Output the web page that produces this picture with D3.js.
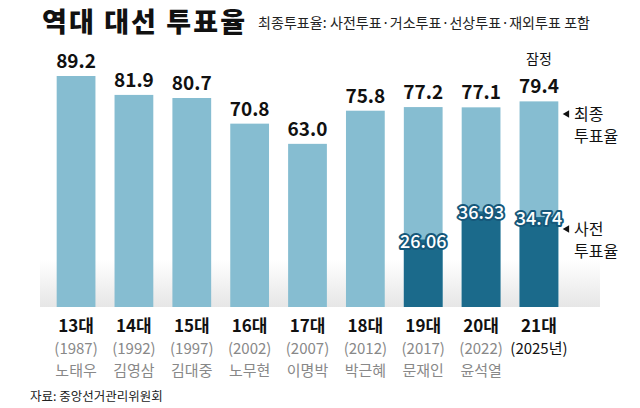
<!DOCTYPE html>
<html><head><meta charset="utf-8">
<script src="https://cdn.jsdelivr.net/npm/d3@7"></script>
<style>body{margin:0;background:#fff}svg{font-family:"Noto Sans CJK KR","Noto Sans",sans-serif}</style>
</head><body>
<script>
const terms = ["13대","14대","15대","16대","17대","18대","19대","20대","21대"];
const years = ["(1987)","(1992)","(1997)","(2002)","(2007)","(2012)","(2017)","(2022)","(2025년)"];
const names = ["노태우","김영삼","김대중","노무현","이명박","박근혜","문재인","윤석열",""];
const finalRate = [89.2,81.9,80.7,70.8,63.0,75.8,77.2,77.1,79.4];
const earlyRate = [null,null,null,null,null,null,26.06,36.93,34.74];

const W = 640, H = 408;
const svg = d3.select("body").append("svg").attr("width", W).attr("height", H);

const x = d3.scaleBand().domain(terms).range([48, 567]).paddingInner(0.33).paddingOuter(0.15);
const y = d3.scaleLinear().domain([0, 89.2]).range([307, 76]);

const defs = svg.append("defs");
const gr = defs.append("linearGradient").attr("id","shade").attr("x1",0).attr("y1",0).attr("x2",0).attr("y2",1);
gr.append("stop").attr("offset","0%").attr("stop-color","#fff");
gr.append("stop").attr("offset","100%").attr("stop-color","#e6e6e6");
svg.append("rect").attr("x",40).attr("y",260).attr("width",560).attr("height",47).attr("fill","url(#shade)");

svg.append("text").attr("x",42).attr("y",32).attr("font-size",27).attr("font-weight",900).attr("fill","#111")
  .attr("textLength",203).text("역대 대선 투표율");
svg.append("text").attr("x",258).attr("y",28).attr("font-size",14).attr("fill","#222")
  .attr("textLength",332).text("최종투표율: 사전투표·거소투표·선상투표·재외투표 포함");

const g = svg.append("g");
g.selectAll(".fin").data(terms).join("rect")
  .attr("x", d => x(d)).attr("width", x.bandwidth())
  .attr("y", (d,i) => y(finalRate[i])).attr("height", (d,i) => y(0) - y(finalRate[i]))
  .attr("fill", "#86bdd1");
g.selectAll(".fv").data(terms).join("text")
  .attr("x", d => x(d) + x.bandwidth()/2).attr("y", (d,i) => y(finalRate[i]) - 8)
  .attr("text-anchor","middle").attr("font-size",19).attr("font-weight",700).attr("fill","#111")
  .text((d,i) => finalRate[i].toFixed(1));

const ed = terms.map((t,i) => ({t, v: earlyRate[i]})).filter(d => d.v != null);
g.selectAll(".er").data(ed).join("rect")
  .attr("x", d => x(d.t)).attr("width", x.bandwidth())
  .attr("y", d => y(d.v)).attr("height", d => y(0) - y(d.v)).attr("fill", "#1b6a8b");
g.selectAll(".ev").data(ed).join("text")
  .attr("x", d => x(d.t) + x.bandwidth()/2).attr("y", d => y(d.v) + 8)
  .attr("text-anchor","middle").attr("font-size",18).attr("font-weight",500)
  .attr("fill","#fff").attr("stroke","#15587a").attr("stroke-width",4).attr("paint-order","stroke")
  .attr("stroke-linejoin","round")
  .text(d => d.v.toFixed(2));

svg.append("text").attr("x", x("21대") + x.bandwidth()/2).attr("y", 64).attr("text-anchor","middle")
  .attr("font-size",14).attr("fill","#111").text("잠정");

const lbl = svg.append("g").attr("text-anchor","middle");
terms.forEach((t,i) => {
  const cx = x(t) + x.bandwidth()/2;
  lbl.append("text").attr("x",cx).attr("y",332).attr("font-size",17).attr("font-weight",700).attr("fill","#111").text(t);
  lbl.append("text").attr("x",cx).attr("y",354).attr("font-size",15).attr("fill", i===8 ? "#111" : "#888").text(years[i]);
  lbl.append("text").attr("x",cx).attr("y",376).attr("font-size",15).attr("fill","#888").text(names[i]);
});

function legend(yy, a, b) {
  svg.append("path").attr("d", d3.symbol(d3.symbolTriangle, 24)()).attr("transform",`translate(${567},${yy-6}) rotate(-90)`).attr("fill","#111");
  svg.append("text").attr("x",574).attr("y",yy).attr("font-size",16).attr("fill","#111").text(a);
  svg.append("text").attr("x",574).attr("y",yy+22).attr("font-size",16).attr("fill","#111").text(b);
}
legend(120, "최종", "투표율");
legend(235, "사전", "투표율");

svg.append("text").attr("x",30).attr("y",401).attr("font-size",12.5).attr("fill","#222").text("자료: 중앙선거관리위원회");
</script>
</body></html>
